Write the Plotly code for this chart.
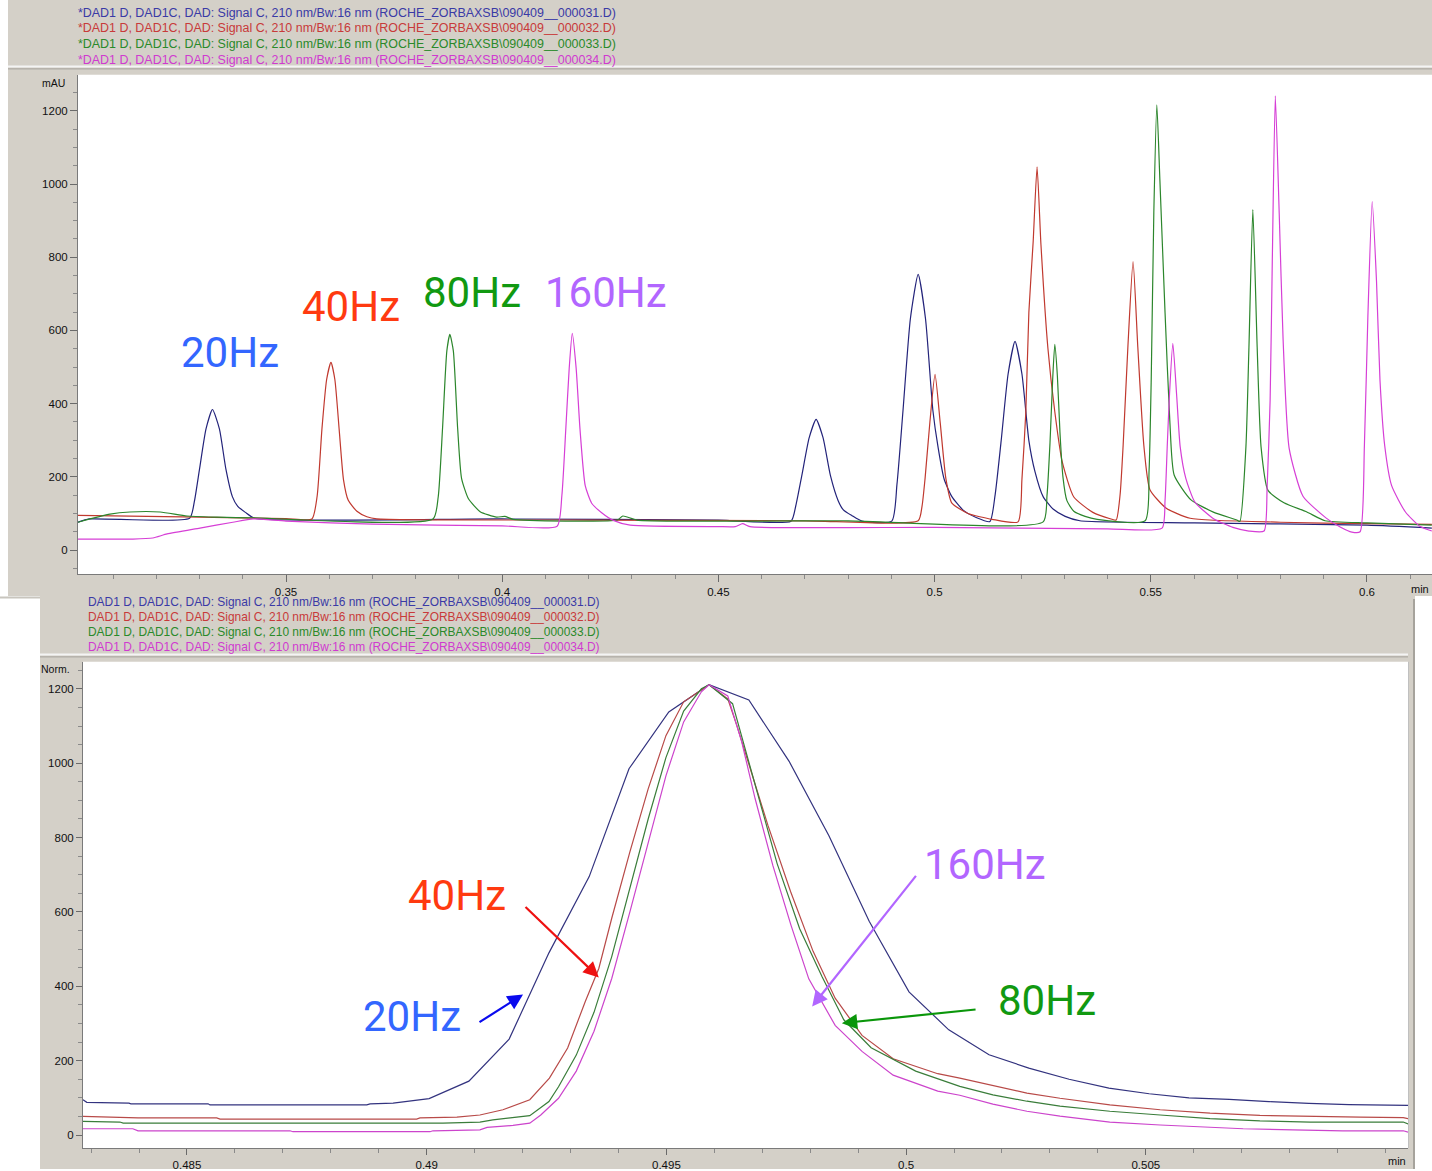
import plotly.graph_objects as go

W, H = 1432, 1171

# ---------------- DATA ----------------
# Top chromatogram: retention time (min) and absorbance (mAU)
TOP_BLUE_T = [0.3019, 0.3045, 0.3277, 0.3288, 0.3300, 0.3315, 0.3330, 0.3346, 0.3361, 0.3376, 0.3388, 0.3406, 0.3427,
              0.4000, 0.4500,
              0.4668, 0.4679, 0.4693, 0.4710, 0.4726, 0.4742, 0.4759, 0.4777, 0.4789, 0.4809, 0.4832,
              0.4901, 0.4913, 0.4927, 0.4944, 0.4962, 0.4979, 0.4996, 0.5008, 0.5022, 0.5040, 0.5066, 0.5096, 0.5128,
              0.5140, 0.5154, 0.5170, 0.5186, 0.5202, 0.5218, 0.5232, 0.5251, 0.5274, 0.5302, 0.5336,
              0.5600, 0.6000, 0.6150]
TOP_BLUE_V = [76, 85, 87, 132, 221, 331, 384, 331, 221, 146, 120, 103, 87,
              85, 82,
              79, 121, 204, 307, 357, 307, 204, 135, 110, 94, 79,
              79, 180, 382, 632, 753, 632, 382, 281, 194, 146, 109, 89, 78,
              151, 299, 481, 570, 481, 299, 215, 146, 112, 92, 80,
              74, 68, 60]

TOP_RED_T = [0.3019, 0.3300, 0.3500,
             0.3560, 0.3572, 0.3583, 0.3594, 0.3604, 0.3613, 0.3623, 0.3633, 0.3644, 0.3664, 0.3687, 0.3710,
             0.4200, 0.4700,
             0.4962, 0.4971, 0.4978, 0.4989, 0.5001, 0.5013, 0.5026, 0.5040, 0.5077, 0.5133,
             0.5193, 0.5202, 0.5211, 0.5218, 0.5228, 0.5237, 0.5246, 0.5262, 0.5278, 0.5295, 0.5322, 0.5366, 0.5408,
             0.5420, 0.5429, 0.5436, 0.5447, 0.5459, 0.5470, 0.5484, 0.5498, 0.5535, 0.5591,
             0.5800, 0.6000, 0.6150]
TOP_RED_V = [95, 90, 86,
             85, 147, 329, 466, 513, 466, 329, 192, 136, 106, 91, 85,
             82, 80,
             80, 120, 196, 348, 480, 348, 196, 128, 100, 84,
             77, 193, 378, 649, 843, 1047, 834, 552, 378, 242, 145, 103, 85,
             82, 151, 285, 554, 788, 554, 285, 165, 115, 87,
             76, 72, 70]

TOP_GREEN_T = [0.3019, 0.3093, 0.3139, 0.3209, 0.3271, 0.3340, 0.3424,
               0.3840, 0.3852, 0.3862, 0.3872, 0.3879, 0.3887, 0.3897, 0.3906, 0.3922, 0.3949, 0.3987,
               0.4006, 0.4025, 0.4266, 0.4279, 0.4312, 0.4800,
               0.5251, 0.5260, 0.5267, 0.5273, 0.5278, 0.5284, 0.5290, 0.5297, 0.5306, 0.5322, 0.5348, 0.5376,
               0.5487, 0.5496, 0.5501, 0.5507, 0.5514, 0.5521, 0.5533, 0.5544, 0.5554, 0.5593, 0.5646, 0.5699,
               0.5706, 0.5720, 0.5727, 0.5736, 0.5746, 0.5755, 0.5771, 0.5808, 0.5861, 0.5903,
               0.6000, 0.6150]
TOP_GREEN_V = [76, 98, 104, 104, 93, 90, 88,
               85, 145, 332, 544, 589, 544, 332, 196, 140, 105, 90,
               92, 84, 82, 93, 82, 80,
               77, 150, 295, 465, 562, 475, 320, 198, 135, 106, 92, 84,
               80, 216, 466, 921, 1216, 1012, 648, 353, 205, 137, 103, 82,
               78, 282, 555, 930, 555, 282, 163, 129, 104, 80,
               74, 68]

TOP_MAGENTA_T = [0.3019, 0.3146, 0.3192, 0.3225, 0.3301, 0.3377, 0.3424, 0.3500, 0.3700, 0.4000,
                 0.4127, 0.4138, 0.4147, 0.4155, 0.4162, 0.4171, 0.4180, 0.4192, 0.4207, 0.4230, 0.4257, 0.4296,
                 0.4500, 0.4539, 0.4556, 0.4573, 0.5000, 0.5400,
                 0.5526, 0.5533, 0.5538, 0.5543, 0.5551, 0.5560, 0.5568, 0.5581, 0.5602, 0.5646, 0.5690, 0.5727,
                 0.5762, 0.5769, 0.5776, 0.5781, 0.5788, 0.5797, 0.5806, 0.5820, 0.5852, 0.5905, 0.5938, 0.5965,
                 0.5984, 0.5994, 0.6002, 0.6012, 0.6022, 0.6030, 0.6041, 0.6057, 0.6089, 0.6122, 0.6150]
TOP_MAGENTA_V = [30, 30, 33, 44, 60, 76, 85, 79, 71, 66,
                 65, 149, 329, 497, 592, 497, 329, 176, 128, 102, 81, 68,
                 64, 64, 72, 64, 62, 58,
                 60, 136, 282, 419, 565, 419, 282, 196, 131, 85, 62, 52,
                 52, 171, 409, 789, 1241, 920, 575, 278, 147, 88, 63, 49,
                 50, 285, 636, 952, 735, 465, 285, 176, 104, 65, 52]

# Bottom chromatogram (normalised, zoom on one peak)
BOT_BLUE_T = [0.48283, 0.48291, 0.48379, 0.48383, 0.48544, 0.48548, 0.48875, 0.48882, 0.48930, 0.48971, 0.49005,
              0.49088, 0.49172, 0.49255, 0.49339, 0.49422, 0.49505, 0.49589,
              0.49672, 0.49756, 0.49839, 0.49923, 0.50006, 0.50089, 0.50173, 0.50256, 0.50340, 0.50423, 0.50507,
              0.50590, 0.50674, 0.50757, 0.50840, 0.50924, 0.51007, 0.51047]
BOT_BLUE_V = [95, 88, 86, 84, 84, 81, 81, 84, 86, 92, 98,
              145, 258, 490, 695, 985, 1138, 1211,
              1170, 1005, 805, 575, 385, 283, 216, 180, 150, 126, 111,
              100, 96, 90, 85, 82, 80, 80]

BOT_RED_T = [0.48283, 0.48395, 0.48398, 0.48562, 0.48569, 0.48979, 0.48986, 0.49063, 0.49111, 0.49159, 0.49215,
             0.49256, 0.49294, 0.49331, 0.49359, 0.49386, 0.49424, 0.49462, 0.49499, 0.49536, 0.49589,
             0.49628, 0.49647, 0.49675, 0.49712, 0.49759, 0.49806, 0.49852, 0.49908, 0.49973, 0.50066, 0.50112,
             0.50181, 0.50252, 0.50321, 0.50425, 0.50530, 0.50634, 0.50738, 0.50843, 0.50947, 0.51037, 0.51047]
BOT_RED_V = [50, 48, 46, 46, 43, 43, 46, 48, 54, 68, 95,
             153, 234, 360, 448, 583, 762, 931, 1074, 1165, 1211,
             1173, 1101, 985, 832, 655, 494, 368, 268, 205, 165, 153,
             133, 113, 99, 81, 68, 59, 53, 50, 48, 47, 44]

BOT_GREEN_T = [0.48283, 0.48360, 0.48367, 0.48569, 0.48575, 0.49028, 0.49034, 0.49111, 0.49138, 0.49174, 0.49215,
               0.49255, 0.49275, 0.49312, 0.49349, 0.49386, 0.49424, 0.49462, 0.49499, 0.49536, 0.49573, 0.49589,
               0.49638, 0.49666, 0.49694, 0.49731, 0.49778, 0.49825, 0.49870, 0.49927, 0.50020, 0.50112,
               0.50181, 0.50252, 0.50321, 0.50425, 0.50530, 0.50634, 0.50738, 0.50843, 0.51037, 0.51047]
BOT_GREEN_V = [37, 35, 32, 32, 30, 30, 32, 35, 41, 46, 52,
               90, 130, 215, 330, 480, 665, 850, 1015, 1140, 1200, 1211,
               1160, 1030, 895, 730, 555, 425, 310, 235, 172, 131,
               108, 91, 78, 64, 54, 44, 38, 35, 35, 30]

BOT_MAGENTA_T = [0.48283, 0.48387, 0.48398, 0.48715, 0.48721, 0.49007, 0.49013, 0.49111, 0.49126, 0.49180, 0.49215,
                 0.49238, 0.49275, 0.49312, 0.49349, 0.49386, 0.49424, 0.49462, 0.49499, 0.49536, 0.49573, 0.49589,
                 0.49628, 0.49657, 0.49685, 0.49722, 0.49760, 0.49797, 0.49852, 0.49908, 0.49973, 0.50066, 0.50112,
                 0.50181, 0.50252, 0.50321, 0.50425, 0.50530, 0.50634, 0.50703, 0.50807, 0.50911, 0.51037, 0.51047]
BOT_MAGENTA_V = [17, 17, 11.5, 11.5, 9, 9, 11.5, 14, 20.6, 26, 32,
                 54, 99, 172, 279, 421, 601, 789, 966, 1111, 1192, 1211,
                 1181, 1058, 905, 725, 564, 420, 295, 225, 161, 118, 107,
                 83, 64, 51, 35, 27, 21.5, 17, 14, 11.5, 11.5, 8]

FILE_IDS = ["000031", "000032", "000033", "000034"]
RATE_LABELS = ["20Hz", "40Hz", "80Hz", "160Hz"]
TOP_X_TICKS = [0.35, 0.4, 0.45, 0.5, 0.55, 0.6]
TOP_X_TEXT = ["0.35", "0.4", "0.45", "0.5", "0.55", "0.6"]
BOT_X_TICKS = [0.485, 0.49, 0.495, 0.5, 0.505]
BOT_X_TEXT = ["0.485", "0.49", "0.495", "0.5", "0.505"]
Y_TICKS = [0, 200, 400, 600, 800, 1000, 1200]
Y_TEXT = ["0", "200", "400", "600", "800", "1000", "1200"]

# ---------------- STYLE ----------------
GRAY = "#d4d0c8"
LINE_COLORS_TOP = ["#23237a", "#c0392f", "#2c862c", "#d63fd6"]
LINE_COLORS_BOT = ["#33337f", "#b84a48", "#3a7d3a", "#cc44cc"]
LEGEND_COLORS = ["#3a3aa6", "#c83a3a", "#2a8a2a", "#d03ad0"]
LABEL_COLORS = ["#3366ff", "#ff3a10", "#119911", "#b266ff"]
TICK_FONT = dict(family="Liberation Sans, Arial, sans-serif", size=11.5, color="#111111")


def px(x):
    return x / W


def py(y):
    return 1 - y / H


fig = go.Figure()

top_sets = [(TOP_BLUE_T, TOP_BLUE_V), (TOP_RED_T, TOP_RED_V), (TOP_GREEN_T, TOP_GREEN_V), (TOP_MAGENTA_T, TOP_MAGENTA_V)]
bot_sets = [(BOT_BLUE_T, BOT_BLUE_V), (BOT_RED_T, BOT_RED_V), (BOT_GREEN_T, BOT_GREEN_V), (BOT_MAGENTA_T, BOT_MAGENTA_V)]

for (t, v), c, name in zip(top_sets, LINE_COLORS_TOP, RATE_LABELS):
    fig.add_trace(go.Scatter(x=t, y=v, mode="lines", name=name,
                             line=dict(color=c, width=1.2, shape="spline", smoothing=0.55),
                             xaxis="x", yaxis="y", showlegend=False))
for (t, v), c, name in zip(bot_sets, LINE_COLORS_BOT, RATE_LABELS):
    fig.add_trace(go.Scatter(x=t, y=v, mode="lines", name=name, line=dict(color=c, width=1.2),
                             xaxis="x2", yaxis="y2", showlegend=False))

shapes = [
    # grey panels
    dict(type="rect", xref="paper", yref="paper", x0=px(8), x1=px(1432), y0=py(597), y1=py(0),
         fillcolor=GRAY, line_width=0, layer="below"),
    dict(type="rect", xref="paper", yref="paper", x0=px(40), x1=px(1415), y0=py(1171), y1=py(597),
         fillcolor=GRAY, line_width=0, layer="below"),
    # white plot areas
    dict(type="rect", xref="paper", yref="paper", x0=px(78), x1=px(1432), y0=py(575), y1=py(75),
         fillcolor="white", line_width=0, layer="below"),
    dict(type="rect", xref="paper", yref="paper", x0=px(83), x1=px(1408), y0=py(1150), y1=py(663),
         fillcolor="white", line_width=0, layer="below"),
    # separators
    dict(type="line", xref="paper", yref="paper", x0=px(8), x1=px(1432), y0=py(66.5), y1=py(66.5),
         line=dict(color="#f4f4f4", width=2), layer="below"),
    dict(type="line", xref="paper", yref="paper", x0=px(8), x1=px(1432), y0=py(69), y1=py(69),
         line=dict(color="#a6a39c", width=1), layer="below"),
    dict(type="line", xref="paper", yref="paper", x0=px(40), x1=px(1408), y0=py(655.5), y1=py(655.5),
         line=dict(color="#f4f4f4", width=2), layer="below"),
    dict(type="line", xref="paper", yref="paper", x0=px(40), x1=px(1408), y0=py(658), y1=py(658),
         line=dict(color="#a6a39c", width=1), layer="below"),
    dict(type="line", xref="paper", yref="paper", x0=px(0), x1=px(40), y0=py(598.5), y1=py(598.5),
         line=dict(color="#c8c5be", width=2), layer="below"),
    dict(type="line", xref="paper", yref="paper", x0=px(1414), x1=px(1414), y0=py(1171), y1=py(600),
         line=dict(color="#a6a39c", width=2), layer="below"),
    dict(type="line", xref="paper", yref="paper", x0=px(1408.5), x1=px(1408.5), y0=py(1150), y1=py(663),
         line=dict(color="#c0c0c0", width=1), layer="below"),
]

annotations = []
leg_font = "Liberation Sans, Arial, sans-serif"
for i, (fid, col) in enumerate(zip(FILE_IDS, LEGEND_COLORS)):
    annotations.append(dict(
        text="*DAD1 D, DAD1C, DAD: Signal C, 210 nm/Bw:16 nm (ROCHE_ZORBAXSB\\090409__%s.D)" % fid,
        xref="paper", yref="paper", x=px(76), y=py([13, 28.5, 44, 60][i]), xanchor="left", yanchor="middle",
        showarrow=False, font=dict(family=leg_font, size=12.45, color=col)))
    annotations.append(dict(
        text="DAD1 D, DAD1C, DAD: Signal C, 210 nm/Bw:16 nm (ROCHE_ZORBAXSB\\090409__%s.D)" % fid,
        xref="paper", yref="paper", x=px(86), y=py([603, 618, 633, 648][i]), xanchor="left", yanchor="middle",
        showarrow=False, font=dict(family=leg_font, size=11.95, color=col)))

annotations += [
    dict(text="mAU", xref="paper", yref="paper", x=px(67), y=py(83), xanchor="right", yanchor="middle",
         showarrow=False, font=dict(family=leg_font, size=10.5, color="#111")),
    dict(text="Norm.", xref="paper", yref="paper", x=px(72), y=py(670), xanchor="right", yanchor="middle",
         showarrow=False, font=dict(family=leg_font, size=10.5, color="#111")),
    dict(text="min", xref="paper", yref="paper", x=px(1431), y=py(590), xanchor="right", yanchor="middle",
         showarrow=False, font=dict(family=leg_font, size=11, color="#111")),
    dict(text="min", xref="paper", yref="paper", x=px(1397), y=py(1163), xanchor="center", yanchor="middle",
         showarrow=False, font=dict(family=leg_font, size=11, color="#111")),
]

big_font = "Roboto, sans-serif"
top_label_pos = [(230, 353), (351, 307), (472, 293), (606, 293)]
bot_label_pos = [(412, 1018), (457, 897), (1047, 1002), (985, 866)]
for lab, col, (x, y) in zip(RATE_LABELS, LABEL_COLORS, top_label_pos):
    annotations.append(dict(text=lab, xref="paper", yref="paper", x=px(x), y=py(y), xanchor="center",
                            yanchor="middle", showarrow=False, font=dict(family=big_font, size=42, color=col)))
for lab, col, (x, y) in zip(RATE_LABELS, LABEL_COLORS, bot_label_pos):
    annotations.append(dict(text=lab, xref="paper", yref="paper", x=px(x), y=py(y), xanchor="center",
                            yanchor="middle", showarrow=False, font=dict(family=big_font, size=42, color=col)))

# arrows (tip, tail) in bottom-panel data coordinates
arrow_specs = [
    ((0.49201, 378), (0.49107, 301), "#0a0aee"),
    ((0.49359, 424), (0.49203, 617), "#ee1111"),
    ((0.49804, 346), (0.50023, 701), "#b266ff"),
    ((0.49866, 301), (0.50148, 338), "#0a960a"),
]
for (tx, ty), (sx, sy), col in arrow_specs:
    annotations.append(dict(x=tx, y=ty, xref="x2", yref="y2", ax=sx, ay=sy, axref="x2", ayref="y2",
                            text="", showarrow=True, arrowhead=2, arrowsize=1.4, arrowwidth=2.2,
                            arrowcolor=col, standoff=0, startstandoff=0))

axis_common = dict(showgrid=False, zeroline=False, showline=True, linecolor="#7a7a7a", linewidth=1,
                   ticks="outside", tickcolor="#6a6a6a", tickfont=TICK_FONT)

fig.update_layout(
    width=W, height=H, margin=dict(l=0, r=0, t=0, b=0),
    paper_bgcolor="white", plot_bgcolor="white",
    showlegend=False, shapes=shapes, annotations=annotations,
    xaxis=dict(domain=[px(78), 1.0], range=[0.301896, 0.615035], anchor="y",
               tickmode="array", tickvals=TOP_X_TICKS, ticktext=TOP_X_TEXT, ticklen=7,
               minor=dict(tickmode="linear", tick0=0, dtick=0.01, ticklen=4, tickcolor="#8a8a8a", ticks="outside"),
               **axis_common),
    yaxis=dict(domain=[py(575), py(75)], range=[-65.45, 1298.2], anchor="x",
               tickmode="array", tickvals=Y_TICKS, ticktext=Y_TEXT, ticklen=7,
               minor=dict(tickmode="linear", tick0=0, dtick=50, ticklen=4, tickcolor="#8a8a8a", ticks="outside"),
               **axis_common),
    xaxis2=dict(domain=[px(83), px(1408)], range=[0.482831, 0.510469], anchor="y2",
                tickmode="array", tickvals=BOT_X_TICKS, ticktext=BOT_X_TEXT, ticklen=6,
                minor=dict(tickmode="linear", tick0=0, dtick=0.001, ticklen=4, tickcolor="#8a8a8a", ticks="outside"),
                **axis_common),
    yaxis2=dict(domain=[py(1150), py(663)], range=[-34.9, 1272.5], anchor="x2",
                tickmode="array", tickvals=Y_TICKS, ticktext=Y_TEXT, ticklen=6,
                minor=dict(tickmode="linear", tick0=0, dtick=50, ticklen=4, tickcolor="#8a8a8a", ticks="outside"),
                **axis_common),
)

fig.write_html("out.html", config={"displayModeBar": False},
               post_script="document.body.style.margin='0';document.body.style.overflow='hidden';")
